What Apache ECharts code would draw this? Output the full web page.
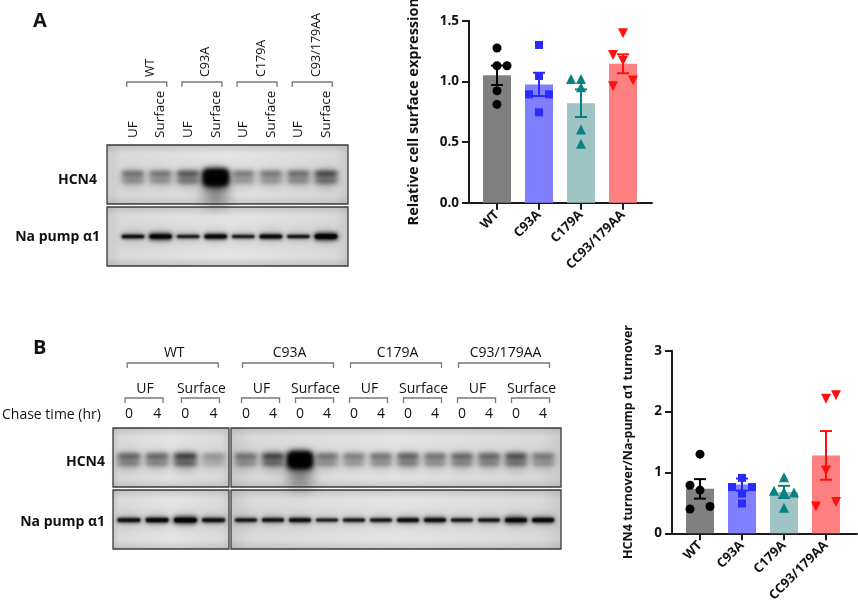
<!DOCTYPE html>
<html><head><meta charset="utf-8">
<script src="https://cdn.jsdelivr.net/npm/echarts@6/dist/echarts.min.js"></script>
<style>html,body{margin:0;padding:0;background:#fff}#c{width:858px;height:614px}</style>
</head><body><div id="c"></div>
<script>
// ---------- data ----------
const groups = ['WT', 'C93A', 'C179A', 'CC93/179AA'];
const blotGroups = ['WT', 'C93A', 'C179A', 'C93/179AA'];
const fractions = ['UF', 'Surface'];

// Panel A bar chart: relative cell surface expression
const surfTicks = [0, 0.5, 1.0, 1.5];
const surfMean = [1.05, 0.975, 0.82, 1.145];
const surfSem = [0.08, 0.096, 0.114, 0.078];
const surfWT = [1.275, 1.129, 1.129, 0.923, 0.810];
const surfC93A = [1.30, 1.044, 0.893, 0.893, 0.745];
const surfC179A = [1.019, 1.019, 0.951, 0.604, 0.486];
const surfCC = [1.396, 1.217, 1.170, 1.008, 0.959];

// Panel B bar chart: HCN4 turnover / Na-pump a1 turnover
const turnTicks = [0, 1, 2, 3];
const turnMean = [0.73, 0.80, 0.68, 1.28];
const turnSem = [0.16, 0.10, 0.10, 0.40];
const turnWT = [1.30, 0.79, 0.71, 0.40, 0.44];
const turnC93A = [0.91, 0.76, 0.76, 0.65, 0.49];
const turnC179A = [0.92, 0.70, 0.68, 0.67, 0.42];
const turnCC = [2.21, 2.27, 1.03, 0.44, 0.515];

// Blot lanes and estimated band intensities (0..1)
const lanesA = ['UF', 'Surface', 'UF', 'Surface', 'UF', 'Surface', 'UF', 'Surface'];
const hcn4A = [0.38, 0.34, 0.65, 1.0, 0.3, 0.32, 0.42, 0.75];
const napA = [0.5, 0.85, 0.4, 0.7, 0.4, 0.65, 0.42, 1.0];
const chaseB = ['0', '4', '0', '4', '0', '4', '0', '4', '0', '4', '0', '4', '0', '4', '0', '4'];
const hcn4B = [0.5, 0.5, 0.88, 0.08, 0.38, 0.82, 1.0, 0.38, 0.28, 0.38, 0.55, 0.38, 0.5, 0.5, 0.7, 0.32];
const napB = [0.55, 0.7, 0.95, 0.6, 0.45, 0.5, 0.6, 0.35, 0.4, 0.45, 0.6, 0.62, 0.4, 0.45, 0.8, 0.7];

// ---------- styles / layout ----------
const barColors = ['#808080', '#8080ff', '#9fc4c4', '#ff8080'];
const ptColors = ['#000000', '#2a2aff', '#0a8080', '#ff1010'];
const symbols = ['circle', 'rect', 'triangle', 'triangle'];
const symRot = [0, 0, 0, 180];
const jitterSurf = [[0, 0, 10, 0, 0], [0, 0, -10, 10, 0], [-10, 0, 0, 0, 0], [0, -10, 0, 10, -10]];
const jitterTurn = [[0, -10, 0, -10, 10], [0, -10, 10, 0, 0], [0, -10, 0, 10, 0], [0, 10, 0, -10, 10]];
const FONT = '"Open Sans", "Noto Sans", sans-serif';

const blotA = { left: 119.2, width: 220.6, n: 8, hTop: 145, nTop: 207, h: 59, boxL: 107, boxR: 348 };
const blotBwt = { left: 114.9, width: 112.7, n: 4, boxL: 113, boxR: 229 };
const blotBrest = { left: 232.5, width: 324, n: 12, boxL: 231, boxR: 561 };
const bHTop = 428, bNTop = 490, bH = 59;
function laneX(b, i) { return b.left + b.width / b.n * (i + 0.5); }

// ---------- chart ----------
const chart = echarts.init(document.getElementById('c'));

function errRender(colors) {
  return function (params, api) {
    const c = api.value(0), m = api.value(1), s = api.value(2);
    const top = api.coord([c, m + s]), bot = api.coord([c, m - s]);
    const hw = 6;
    const st = { stroke: colors[c], lineWidth: 2 };
    return { type: 'group', children: [
      { type: 'line', shape: { x1: top[0], y1: top[1], x2: bot[0], y2: bot[1] }, style: st },
      { type: 'line', shape: { x1: top[0] - hw, y1: top[1], x2: top[0] + hw, y2: top[1] }, style: st },
      { type: 'line', shape: { x1: bot[0] - hw, y1: bot[1], x2: bot[0] + hw, y2: bot[1] }, style: st }
    ] };
  };
}

// soft (gaussian-blurred) blob: the shape is drawn far off to the left and only its shadow lands in place
const OFF = 3000;
function blob(cx, cy, w, h, alpha, blur, r) {
  return { type: 'rect', shape: { x: cx - w / 2 - OFF, y: cy - h / 2, width: w, height: h, r: r == null ? Math.min(h, w) / 2 : r },
    style: { fill: '#000', shadowColor: 'rgba(0,0,0,' + Math.min(1, alpha).toFixed(3) + ')', shadowBlur: blur, shadowOffsetX: OFF, shadowOffsetY: 0 } };
}

function hcn4Render(row) {
  return function (params, api) {
    const v = api.value(1);
    const p = api.coord([api.value(0), row]);
    const lw = api.size([1, 0])[0];
    const w = lw * 0.82;
    const kids = [];
    kids.push(blob(p[0], p[1] + 2, w, 18, 0.08 + 0.25 * v, 12));
    if (v > 0.9) {
      kids.push(blob(p[0], p[1] + 14, lw * 0.85, 30, 0.4, 14, 6));
      kids.push(blob(p[0], p[1] + 1, lw * 0.92, 18, 1.0, 6, 4));
      kids.push(blob(p[0], p[1] + 1, lw * 0.85, 13, 1.0, 4, 3));
    }
    kids.push(blob(p[0], p[1] - 3, w, 5, 0.32 + 0.68 * v, 5, 2));
    kids.push(blob(p[0], p[1] + 4, w, 4, 0.22 + 0.55 * v, 5, 2));
    return { type: 'group', children: kids };
  };
}

function napRender(row) {
  return function (params, api) {
    const v = api.value(1);
    const p = api.coord([api.value(0), row]);
    const lw = api.size([1, 0])[0];
    const w = lw * 0.9;
    return { type: 'group', children: [
      blob(p[0], p[1], w, 12, 0.05 + 0.2 * v, 10),
      blob(p[0], p[1], w * 0.95, 2.5 + 4 * v, 0.6 + 0.4 * v, 2.5 + 2 * v),
      blob(p[0], p[1], w * 0.9, 1.5 + 3 * v, 0.5 + 0.5 * v, 1.5)
    ] };
  };
}

const grid = [], xAxis = [], yAxis = [], series = [];

function addBarChart(gi, cfg) {
  grid.push({ left: cfg.barLeft, top: cfg.top, width: 168, height: cfg.height, containLabel: false, outerBoundsMode: 'none' });
  xAxis.push({ gridIndex: gi, type: 'category', data: groups,
    axisLine: { show: false },
    axisTick: { show: true, alignWithLabel: true, length: 7, lineStyle: { width: 2, color: '#1a1a1a' } },
    axisLabel: { rotate: 45, margin: 10, fontSize: 13, fontWeight: 'bold', color: '#111', fontFamily: FONT } });
  yAxis.push({ gridIndex: gi, type: 'value', min: cfg.ticks[0], max: cfg.ticks[cfg.ticks.length - 1],
    interval: cfg.ticks[1] - cfg.ticks[0], offset: cfg.barLeft - cfg.axisLeft,
    axisLine: { show: true, lineStyle: { width: 2, color: '#1a1a1a' } },
    axisTick: { show: true, length: 7, lineStyle: { width: 2, color: '#1a1a1a' } },
    splitLine: { show: false },
    axisLabel: { margin: 10, fontSize: 13.5, fontWeight: 'bold', color: '#111', fontFamily: FONT, formatter: cfg.fmt },
    name: cfg.name, nameLocation: 'middle', nameRotate: 90, nameGap: cfg.nameGap,
    nameTextStyle: { fontSize: cfg.nameSize, fontWeight: 'bold', color: '#111', fontFamily: FONT } });
  grid.push({ left: cfg.axisLeft, top: cfg.top, width: cfg.axisWidth, height: cfg.height, outerBoundsMode: 'none' });
  xAxis.push({ gridIndex: gi + 1, type: 'value', min: 0, max: 1,
    axisLine: { show: true, lineStyle: { width: 2, color: '#1a1a1a' } },
    axisTick: { show: false }, axisLabel: { show: false }, splitLine: { show: false } });
  yAxis.push({ gridIndex: gi + 1, type: 'value', show: false, min: 0, max: 1 });

  series.push({ type: 'bar', xAxisIndex: gi, yAxisIndex: gi, barWidth: 28, z: 2,
    data: cfg.mean.map((m, i) => ({ value: m, itemStyle: { color: barColors[i] } })) });
  series.push({ type: 'custom', xAxisIndex: gi, yAxisIndex: gi, z: 3,
    renderItem: errRender(ptColors), encode: { x: 0, y: 1 },
    data: cfg.mean.map((m, i) => [i, m, cfg.sem[i]]) });
  cfg.points.forEach((arr, g) => {
    series.push({ type: 'scatter', xAxisIndex: gi, yAxisIndex: gi, z: 4,
      symbol: symbols[g], symbolRotate: symRot[g], symbolSize: g === 0 ? 9 : (g === 1 ? 8 : 10),
      itemStyle: { color: ptColors[g], opacity: 1 },
      data: arr.map((v, k) => ({ value: [g, v], symbolOffset: [cfg.jitter[g][k], 0] })) });
  });
}

addBarChart(0, { barLeft: 476, axisLeft: 469, axisWidth: 183, top: 20.7, height: 182,
  ticks: surfTicks, fmt: v => v.toFixed(1), name: 'Relative cell surface expression', nameGap: 48, nameSize: 14.5,
  mean: surfMean, sem: surfSem, points: [surfWT, surfC93A, surfC179A, surfCC], jitter: jitterSurf });
addBarChart(2, { barLeft: 679, axisLeft: 672, axisWidth: 185, top: 350.7, height: 182.6,
  ticks: turnTicks, fmt: v => String(v), name: 'HCN4 turnover/Na-pump α1 turnover', nameGap: 37, nameSize: 12.5,
  mean: turnMean, sem: turnSem, points: [turnWT, turnC93A, turnC179A, turnCC], jitter: jitterTurn });

function addBlot(b, top, labels, values, render, row, showLabels, labelCfg) {
  const gi = grid.length;
  grid.push({ left: b.left, top: top, width: b.width, height: bH, outerBoundsMode: 'none' });
  xAxis.push({ gridIndex: gi, type: 'category', data: labels, position: 'top',
    axisLine: { show: false }, axisTick: { show: false }, splitLine: { show: false },
    axisLabel: Object.assign({ show: showLabels, fontSize: 13, color: '#111', fontFamily: FONT, interval: 0 }, labelCfg || {}) });
  yAxis.push({ gridIndex: gi, type: 'value', min: 0, max: 1, show: false });
  series.push({ type: 'custom', xAxisIndex: gi, yAxisIndex: gi, z: 2,
    renderItem: render(row), encode: { x: 0, y: 1 },
    data: values.map((v, i) => [i, v]) });
}
addBlot(blotA, blotA.hTop, lanesA, hcn4A, hcn4Render, 0.46, true, { rotate: 90, margin: 7, fontSize: 13.5 });
addBlot(blotA, blotA.nTop, lanesA, napA, napRender, 0.5, false);
addBlot(blotBwt, bHTop, chaseB.slice(0, 4), hcn4B.slice(0, 4), hcn4Render, 0.47, true, { margin: 7, fontSize: 14 });
addBlot(blotBwt, bNTop, chaseB.slice(0, 4), napB.slice(0, 4), napRender, 0.49, false);
addBlot(blotBrest, bHTop, chaseB.slice(4), hcn4B.slice(4), hcn4Render, 0.47, true, { margin: 7, fontSize: 14 });
addBlot(blotBrest, bNTop, chaseB.slice(4), napB.slice(4), napRender, 0.49, false);

// ---------- graphic decorations ----------
const G = [];
function txt(x, y, text, o) {
  G.push({ type: 'text', x: x, y: y, rotation: (o && o.rot) || 0, z: 20,
    style: { text: text, fill: '#111', fontSize: (o && o.size) || 13, fontWeight: (o && o.weight) || 'normal',
      fontFamily: FONT, align: (o && o.align) || 'center', verticalAlign: (o && o.va) || 'middle' } });
}
function bracket(x1, x2, y, h) {
  G.push({ type: 'polyline', z: 20, shape: { points: [[x1, y + h], [x1, y], [x2, y], [x2, y + h]] },
    style: { stroke: '#7a7a7a', lineWidth: 1.3, fill: null } });
}
function box(x1, x2, y, h) {
  G.push({ type: 'rect', z: -2, shape: { x: x1, y: y, width: x2 - x1, height: h },
    style: { fill: new echarts.graphic.LinearGradient(0, 0, 1, 0, [
      { offset: 0, color: '#c9c9c9' }, { offset: 0.06, color: '#dadada' }, { offset: 0.5, color: '#e4e4e4' },
      { offset: 0.94, color: '#dadada' }, { offset: 1, color: '#c9c9c9' }]), stroke: null } });
  G.push({ type: 'rect', z: -1, shape: { x: x1, y: y, width: x2 - x1, height: h },
    style: { fill: new echarts.graphic.LinearGradient(0, 0, 0, 1, [
      { offset: 0, color: 'rgba(150,150,150,0.35)' }, { offset: 0.15, color: 'rgba(150,150,150,0)' },
      { offset: 0.85, color: 'rgba(150,150,150,0)' }, { offset: 1, color: 'rgba(150,150,150,0.35)' }]), stroke: null } });
  G.push({ type: 'rect', z: 30, shape: { x: x1, y: y, width: x2 - x1, height: h },
    style: { fill: null, stroke: '#3a3a3a', lineWidth: 1.3 } });
}

// Panel A
txt(33, 21, 'A', { size: 20, weight: 'bold', align: 'left' });
box(blotA.boxL, blotA.boxR, blotA.hTop, blotA.h);
box(blotA.boxL, blotA.boxR, blotA.nTop, blotA.h);
txt(97, 180, 'HCN4', { size: 14, weight: 'bold', align: 'right' });
txt(100, 237, 'Na pump α1', { size: 14, weight: 'bold', align: 'right' });
blotGroups.forEach((g, k) => {
  const c = (laneX(blotA, 2 * k) + laneX(blotA, 2 * k + 1)) / 2;
  bracket(c - 20, c + 20, 82, 5);
  txt(c + 4, 77, g, { size: 12.5, rot: Math.PI / 2, align: 'left' });
});

// Panel B
txt(33, 348, 'B', { size: 20, weight: 'bold', align: 'left' });
box(blotBwt.boxL, blotBwt.boxR, bHTop, bH);
box(blotBwt.boxL, blotBwt.boxR, bNTop, bH);
box(blotBrest.boxL, blotBrest.boxR, bHTop, bH);
box(blotBrest.boxL, blotBrest.boxR, bNTop, bH);
txt(105, 462, 'HCN4', { size: 14, weight: 'bold', align: 'right' });
txt(105, 522, 'Na pump α1', { size: 14, weight: 'bold', align: 'right' });
txt(2, 415, 'Chase time (hr)', { size: 14, align: 'left' });
function bLane(i) { return i < 4 ? laneX(blotBwt, i) : laneX(blotBrest, i - 4); }
blotGroups.forEach((g, k) => {
  const x0 = bLane(4 * k), x3 = bLane(4 * k + 3);
  const c = (x0 + x3) / 2;
  txt(c + 3, 353, g, { size: 14 });
  bracket(c - 44, c + 47, 363, 5);
  fractions.forEach((f, j) => {
    const pc = (bLane(4 * k + 2 * j) + bLane(4 * k + 2 * j + 1)) / 2;
    txt(pc + 2, 389, f, { size: 14 });
    bracket(pc - 18, pc + 20, 398, 5);
  });
});

chart.setOption({
  backgroundColor: '#ffffff',
  animation: false,
  grid: grid, xAxis: xAxis, yAxis: yAxis, series: series,
  graphic: { elements: G }
});
</script>
</body></html>
